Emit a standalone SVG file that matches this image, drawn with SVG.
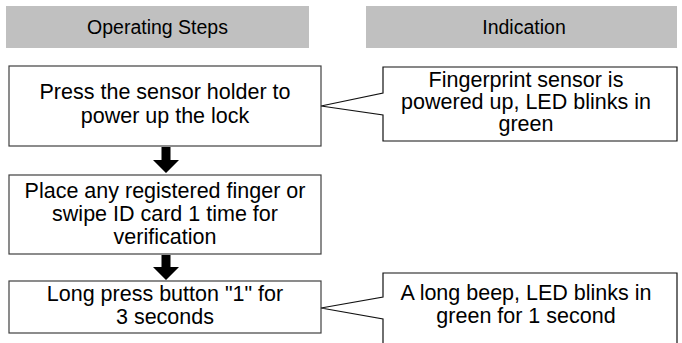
<svg xmlns="http://www.w3.org/2000/svg" width="682" height="343" viewBox="0 0 682 343">
<style>
.hdr{fill:#c0c0c0;stroke:none}
.box{fill:#fff;stroke:#404040;stroke-width:1.2}
.cal{fill:#fff;stroke:#111;stroke-width:1.2}
.h{font-family:"Liberation Sans",Arial,sans-serif;font-size:19.5px;fill:#000;text-anchor:middle}
.t{font-family:"Liberation Sans",Arial,sans-serif;font-size:21.5px;fill:#000;text-anchor:middle}
.arr{fill:#000}
</style>
<rect width="682" height="343" fill="#fff"/>
<g id="header-steps"><rect class="hdr" x="6" y="6" width="303" height="42"/><text class="h" x="157.5" y="33.5">Operating Steps</text></g>
<g id="header-indication"><rect class="hdr" x="366" y="6" width="311" height="42"/><text class="h" x="524" y="33.5">Indication</text></g>
<g id="step1"><rect class="box" x="9" y="66" width="312" height="80"/><text class="t" x="165" y="99">Press the sensor holder to</text><text class="t" x="165" y="123">power up the lock</text></g>
<g id="step2"><rect class="box" x="9" y="175" width="312" height="79"/><text class="t" x="165" y="198">Place any registered finger or</text><text class="t" x="165" y="221">swipe ID card 1 time for</text><text class="t" x="165" y="244">verification</text></g>
<g id="step3"><rect class="box" x="9" y="281" width="312" height="52"/><text class="t" x="165" y="301">Long press button "1" for</text><text class="t" x="165" y="324">3 seconds</text></g>
<g id="indication1"><path class="cal" d="M383,67 H677 V141 H383 V115 L321,106 L383,93 Z"/><text class="t" x="526" y="87">Fingerprint sensor is</text><text class="t" x="526" y="109">powered up, LED blinks in</text><text class="t" x="526" y="131">green</text></g>
<g id="indication3"><path class="cal" d="M383,273 H677 V347 H383 V319 L321,308 L383,297 Z"/><text class="t" x="526" y="300">A long beep, LED blinks in</text><text class="t" x="526" y="323">green for 1 second</text></g>
<g id="connectors">
<polygon class="arr" points="161.5,147 170.5,147 170.5,160 179,160 166,173 153,160 161.5,160"/>
<polygon class="arr" points="161.5,255 170.5,255 170.5,267 179,267 166,280 153,267 161.5,267"/>
</g>
</svg>
